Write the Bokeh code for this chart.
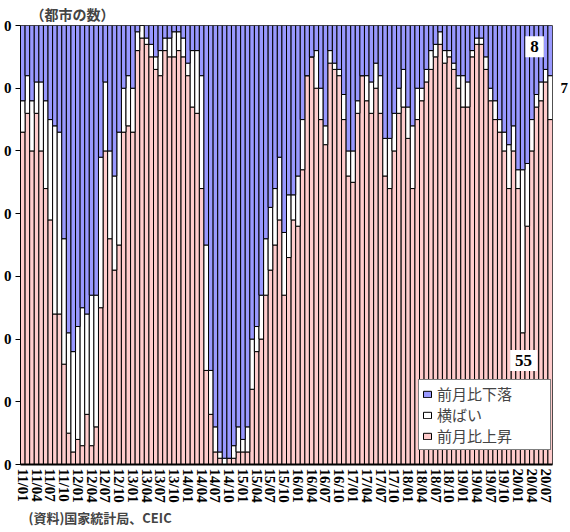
from bokeh.plotting import figure
from bokeh.models import (ColumnDataSource, FixedTicker, Legend, LegendItem, Label,
                          Title, Range1d, LinearAxis)
from bokeh.embed import file_html
from bokeh.resources import INLINE

# ---- data (number of the 70 cities, month-on-month change of new home prices) ----
months = [f"{y:02d}/{m:02d}" for y in range(11, 21) for m in range(1, 13)][:116]

up = [
    53, 56, 50, 56, 50, 44, 39, 24, 24, 16, 5, 2,      # 2011
    4, 3, 8, 3, 6, 25, 50, 36, 31, 35, 53, 54,         # 2012
    53, 66, 68, 67, 65, 63, 62, 66, 65, 65, 66, 65,    # 2013
    62, 57, 56, 44, 15, 8, 2, 1, 0, 1, 1, 2,           # 2014
    2, 2, 12, 18, 20, 27, 31, 35, 39, 27, 33, 39,      # 2015
    38, 47, 62, 65, 60, 55, 51, 64, 63, 62, 55, 46,    # 2016
    45, 56, 62, 58, 56, 60, 56, 46, 44, 50, 56, 57,    # 2017
    52, 44, 55, 58, 61, 63, 65, 67, 64, 65, 63, 60,    # 2018
    57, 57, 65, 67, 67, 63, 58, 55, 53, 50, 44, 50,    # 2019
    44, 21, 38, 50, 57, 58, 61, 55,                    # 2020
]
flat = [
    5, 6, 8, 5, 11, 14, 16, 30, 29, 20, 16, 16,
    18, 22, 16, 24, 21, 24, 11, 14, 15, 18, 7, 8,
    7, 3, 2, 1, 2, 2, 4, 2, 3, 4, 3, 3,
    2, 9, 10, 18, 20, 7, 4, 1, 1, 0, 2, 4,
    2, 4, 8, 4, 7, 9, 10, 9, 10, 10, 10, 4,
    8, 8, 0, 0, 6, 5, 3, 2, 1, 1, 4, 4,
    5, 2, 0, 4, 5, 4, 6, 6, 8, 6, 4, 6,
    5, 10, 5, 2, 2, 3, 2, 2, 2, 1, 1, 2,
    5, 4, 1, 1, 1, 2, 2, 3, 2, 3, 7, 4,
    3, 26, 10, 5, 2, 3, 2, 7,
]
down = [
    12, 8, 12, 9, 9, 12, 15, 16, 17, 34, 49, 52,
    48, 45, 46, 43, 43, 21, 9, 20, 24, 17, 10, 8,
    10, 1, 0, 2, 3, 5, 4, 2, 2, 1, 1, 2,
    6, 4, 4, 8, 35, 55, 64, 68, 69, 69, 67, 64,
    66, 64, 50, 48, 43, 34, 29, 26, 21, 33, 27, 27,
    24, 15, 8, 5, 4, 10, 16, 4, 6, 7, 11, 20,
    20, 12, 8, 8, 9, 6, 8, 18, 18, 14, 10, 7,
    13, 16, 10, 10, 7, 4, 3, 1, 4, 4, 6, 8,
    8, 9, 4, 2, 2, 5, 10, 12, 15, 17, 19, 16,
    23, 23, 22, 15, 11, 9, 7, 8,
]

tick_labels = [
    "11/01", "11/04", "11/07", "11/10", "12/01", "12/04", "12/07", "12/10",
    "13/01", "13/04", "13/07", "13/10", "14/01", "14/04", "14/07", "14/10",
    "15/01", "15/04", "15/07", "15/10", "16/01", "16/04", "16/07", "16/10",
    "17/01", "17/04", "17/07", "17/10", "18/01", "18/04", "18/07", "18/10",
    "19/01", "19/04", "19/07", "19/10", "20/01", "20/04", "20/07",
]
y_ticks = [0, 10, 20, 30, 40, 50, 60, 70]
y_tick_text = ["0", "0", "0", "0", "0", "0", "0", "0"]   # labels appear cut off to last digit

series_names = ["前月比上昇", "横ばい", "前月比下落"]
colors = ["#FFCCCC", "#FFFFFF", "#9999FF"]

last_up, last_flat, last_down = up[-1], flat[-1], down[-1]

# ---- figure ----
N = len(months)
xs = list(range(N))
src = ColumnDataSource(dict(x=xs, up=up, flat=flat, down=down))

p = figure(frame_width=532, frame_height=439,
           x_range=Range1d(-0.5, N - 0.5), y_range=Range1d(0, 70),
           output_backend="svg", toolbar_location=None,
           min_border_left=17, min_border_right=0, min_border_top=17, min_border_bottom=0)
p.background_fill_color = "white"
p.border_fill_color = "white"
p.outline_line_color = "#808080"
p.xgrid.visible = False
p.ygrid.visible = False

rs = p.vbar_stack(["up", "flat", "down"], x="x", width=1.0, source=src,
                  fill_color=colors, line_color="black", line_width=1)

# y axis
p.yaxis.ticker = FixedTicker(ticks=y_ticks)
p.yaxis.major_label_overrides = {t: s for t, s in zip(y_ticks, y_tick_text)}
p.yaxis.minor_tick_line_color = None
p.yaxis.major_tick_in = 0
p.yaxis.major_tick_out = 5
p.yaxis.major_label_standoff = 4
p.yaxis.axis_line_color = "black"
p.yaxis.major_label_text_font = "Liberation Serif"
p.yaxis.major_label_text_font_style = "bold"
p.yaxis.major_label_text_font_size = "15px"
p.yaxis.major_label_text_color = "black"

# right axis carrying the "flat" count of the latest month
r_axis = LinearAxis(ticker=FixedTicker(ticks=[60]),
                    major_label_overrides={60: str(last_flat)})
r_axis.axis_line_color = None
r_axis.major_tick_line_color = None
r_axis.minor_tick_line_color = None
r_axis.major_label_standoff = 2
r_axis.major_label_text_font = "Liberation Serif"
r_axis.major_label_text_font_style = "bold"
r_axis.major_label_text_font_size = "15px"
r_axis.major_label_text_color = "black"
p.add_layout(r_axis, "right")

# x axis
tick_pos = [months.index(lbl) for lbl in tick_labels]
p.xaxis.ticker = FixedTicker(ticks=tick_pos)
p.xaxis.major_label_overrides = {pos: lbl for pos, lbl in zip(tick_pos, tick_labels)}
p.xaxis.major_label_orientation = "vertical"
p.xaxis.minor_tick_line_color = None
p.xaxis.major_tick_in = 0
p.xaxis.major_tick_out = 0
p.xaxis.major_label_standoff = 4
p.xaxis.axis_line_color = "black"
p.xaxis.axis_line_width = 2
p.xaxis.major_label_text_font = "Liberation Serif"
p.xaxis.major_label_text_font_style = "bold"
p.xaxis.major_label_text_font_size = "15px"
p.xaxis.major_label_text_color = "black"

# title (unit) and source
p.title.text = "（都市の数）"
p.title.align = "left"
p.title.offset = 10
p.title.text_font = "Noto Sans CJK JP"
p.title.text_font_style = "bold"
p.title.text_font_size = "14px"
p.title.standoff = 3

src_title = Title(text="(資料)国家統計局、CEIC", align="left", offset=8,
                  text_font="Noto Sans CJK JP", text_font_style="bold",
                  text_font_size="13px", standoff=0)
p.add_layout(src_title, "below")

# legend
legend = Legend(items=[
    LegendItem(label=series_names[2], renderers=[rs[2]]),
    LegendItem(label=series_names[1], renderers=[rs[1]]),
    LegendItem(label=series_names[0], renderers=[rs[0]]),
], location=(398, 14))
legend.label_text_font = "Noto Sans CJK JP"
legend.label_text_font_size = "15px"
legend.label_height = 20
legend.label_width = 110
legend.glyph_width = 10
legend.glyph_height = 8
legend.spacing = 0
legend.padding = 3
legend.margin = 0
legend.label_standoff = 5
legend.border_line_color = "black"
legend.border_line_width = 1.5
legend.background_fill_color = "white"
legend.background_fill_alpha = 1
p.add_layout(legend, "center")

# value annotations for the latest month
lbl_font = dict(text_font="Liberation Serif", text_font_style="bold", text_color="black")
p.add_layout(Label(x=111.6, y=66.6, text=str(last_down), text_align="center",
                   text_baseline="middle", text_font_size="17px",
                   background_fill_color="white", padding=5, **lbl_font))
p.add_layout(Label(x=109.2, y=16.6, text=str(last_up), text_align="center",
                   text_baseline="middle", text_font_size="17px",
                   background_fill_color="white", padding=5, **lbl_font))

open("out.html", "w").write(file_html(p, INLINE))
